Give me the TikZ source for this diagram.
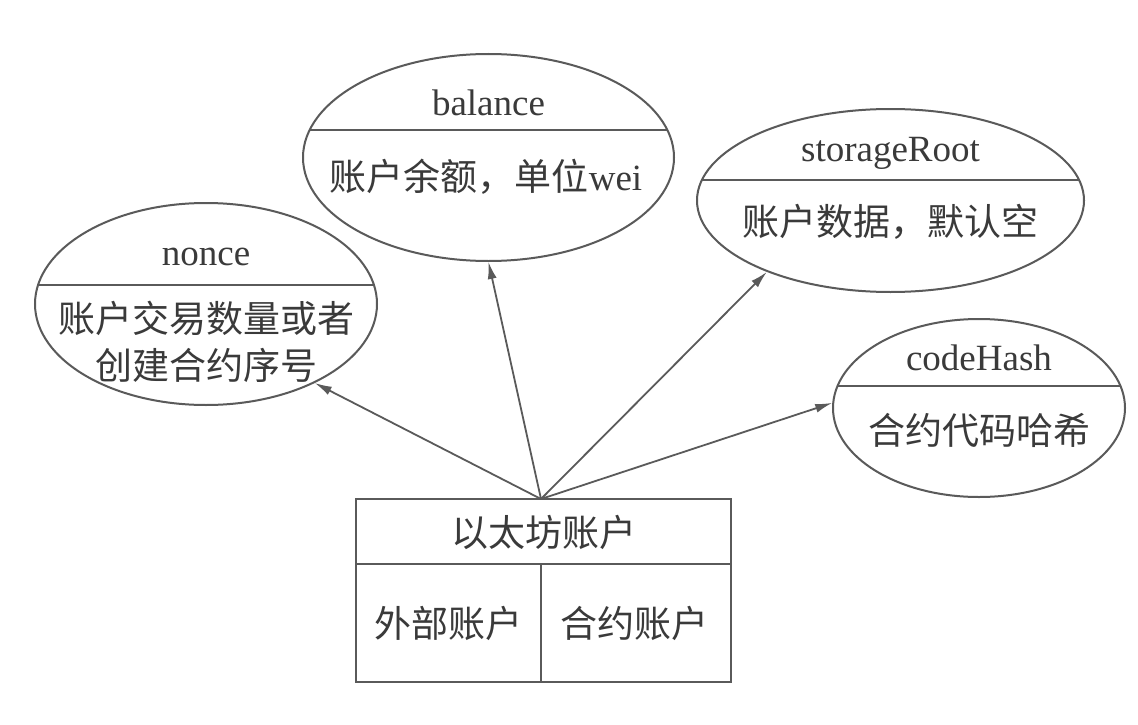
\documentclass[tikz,border=0pt]{standalone}
\usepackage{fontspec}
\setmainfont{Liberation Serif}
\newfontfamily\cjk{Noto Sans CJK SC}
\usetikzlibrary{shapes.geometric,arrows.meta}
\definecolor{linec}{HTML}{5A5A5A}
\definecolor{textc}{HTML}{3A3A3A}
\begin{document}
\begin{tikzpicture}[x=1pt,y=-1pt,
  field/.style={ellipse,draw=linec,line width=2pt,inner sep=0pt},
  lbl/.style={text=textc,font=\fontsize{37}{47}\selectfont,inner sep=0pt,align=center},
  zh/.style={lbl,font=\fontsize{37}{47}\selectfont\cjk},
  conn/.style={draw=linec,line width=1.8pt,-{Latex[length=17pt,width=9pt]}},
  divline/.style={draw=linec,line width=2pt}]
\fill[white] (0,0) rectangle (1138,725);
\useasboundingbox (0,0) rectangle (1138,725);

% ellipses
\node[field,minimum width=342pt,minimum height=202pt,
  path picture={\draw[divline] ([yshift=19pt]path picture bounding box.west) -- ([yshift=19pt]path picture bounding box.east);}]
  (nonce) at (206,304) {};
\node[field,minimum width=371pt,minimum height=207pt,
  path picture={\draw[divline] ([yshift=27.5pt]path picture bounding box.west) -- ([yshift=27.5pt]path picture bounding box.east);}]
  (balance) at (488.5,157.5) {};
\node[field,minimum width=387pt,minimum height=183pt,
  path picture={\draw[divline] ([yshift=20.5pt]path picture bounding box.west) -- ([yshift=20.5pt]path picture bounding box.east);}]
  (storage) at (890.5,200.5) {};
\node[field,minimum width=292pt,minimum height=178pt,
  path picture={\draw[divline] ([yshift=22pt]path picture bounding box.west) -- ([yshift=22pt]path picture bounding box.east);}]
  (code) at (979,408) {};

% ellipse texts
\node[lbl] (nonceT) at (206,257) {nonce};
\node[zh] (nonceB) at (206,341.5) {账户交易数量或者\\创建合约序号};
\node[lbl] (balanceT) at (488.5,103) {balance};
\node[lbl] (balanceB) at (486,177) {{\cjk 账户余额，单位}wei};
\node[lbl] (storageT) at (890.5,153) {storageRoot};
\node[zh] (storageB) at (890.5,222) {账户数据，默认空};
\node[lbl] (codeT) at (979,358) {codeHash};
\node[zh] (codeB) at (979,430) {合约代码哈希};

% account box
\node[draw=linec,line width=2pt,minimum width=375pt,minimum height=183pt,inner sep=0pt] (acct) at (543.5,590.5) {};
\coordinate (hl) at (356,564);
\coordinate (hr) at (731,564);
\coordinate (vt) at (541,564);
\coordinate (vb) at (541,682);
\draw[divline] (hl) -- (hr);
\draw[divline] (vt) -- (vb);
\node[zh] (acctT) at (543.5,532) {以太坊账户};
\node[zh] (ext) at (448,623) {外部账户};
\node[zh] (con) at (634,623) {合约账户};

% connectors
\coordinate (src) at (541,499);
\draw[conn] (src) -- (nonce.-36.6);
\draw[conn] (src) -- (balance.-90);
\draw[conn] (src) -- (storage.-150.6);
\draw[conn] (src) -- (code.178);
\end{tikzpicture}
\end{document}
